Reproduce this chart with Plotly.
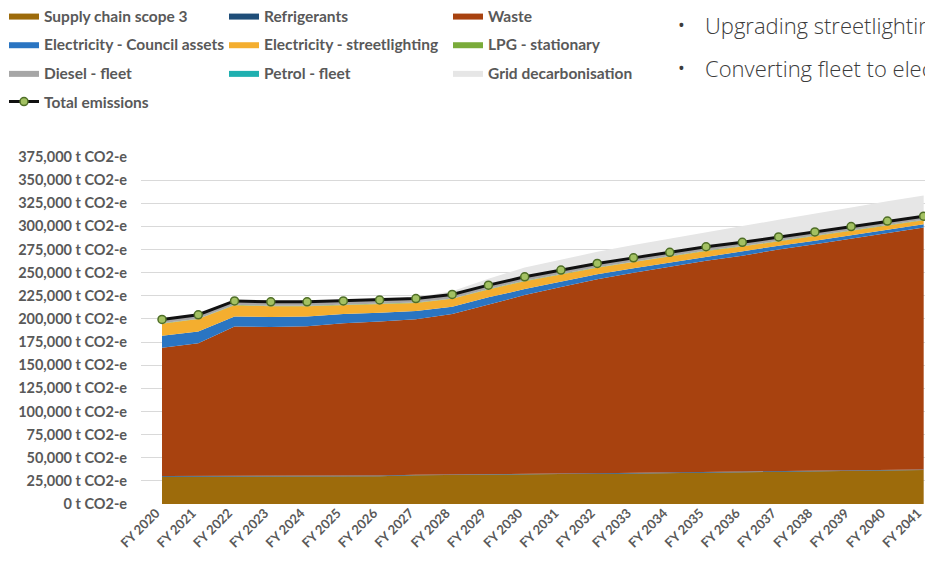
import plotly.graph_objects as go

# financial years on the x axis
years = ["FY 2020", "FY 2021", "FY 2022", "FY 2023", "FY 2024", "FY 2025", "FY 2026",
         "FY 2027", "FY 2028", "FY 2029", "FY 2030", "FY 2031", "FY 2032", "FY 2033",
         "FY 2034", "FY 2035", "FY 2036", "FY 2037", "FY 2038", "FY 2039", "FY 2040",
         "FY 2041"]

# emissions by source, t CO2-e
supply_chain = [29500, 29500, 30000, 29800, 30000, 30200, 30000, 31000, 31500, 31800, 32000,
                32300, 32500, 33000, 33300, 33800, 34300, 34700, 35200, 35700, 36200, 36700]
refrigerants = [700, 700, 700, 700, 700, 700, 700, 700, 700, 700, 700,
                700, 700, 700, 700, 700, 700, 700, 700, 700, 700, 700]
waste = [138600, 143400, 161000, 160900, 161500, 164300, 166500, 168000, 173000, 183300, 193100,
         201600, 209700, 216200, 222400, 228500, 233300, 239700, 244700, 250400, 256300, 261300]
elec_council = [13000, 12700, 11000, 10800, 10500, 10000, 9500, 9000, 8000, 7500, 6500,
                6000, 5500, 5000, 4500, 4500, 4500, 4000, 4000, 3800, 3600, 3500]
elec_street = [13000, 13500, 12000, 11500, 11000, 9500, 9000, 8500, 8500, 8500, 8500,
               7500, 7000, 6500, 6500, 6000, 5500, 5000, 5000, 4800, 4600, 4500]
lpg = [500, 500, 500, 500, 500, 500, 500, 500, 500, 500, 500,
       500, 500, 500, 500, 500, 500, 500, 500, 500, 500, 500]
diesel = [3400, 3400, 3500, 3500, 3500, 3500, 3500, 3500, 3500, 3400, 3400,
          3400, 3300, 3300, 3300, 3200, 3200, 3200, 3100, 3100, 3100, 3000]
petrol = [800, 800, 800, 800, 800, 800, 800, 800, 800, 800, 800,
          800, 800, 800, 800, 800, 800, 800, 800, 800, 800, 800]
grid_decarb = [0, 0, 0, 0, 0, 500, 1000, 1500, 3500, 7000, 10000,
               11500, 12500, 14000, 15000, 16000, 17500, 18500, 19500, 20500, 21500, 22500]

# total line sits on top of the emission layers (grid decarbonisation excluded)
total = [sum(v) for v in zip(supply_chain, refrigerants, waste, elec_council, elec_street,
                             lpg, diesel, petrol)]

FONT = "Lato"
GREY_TXT = "#595959"

# plot box in figure pixels (page body adds an 8px offset)
L, T, W, H = 133, 149, 800, 347


def px_x(x):
    return (x - L) / W


def px_y(y):
    return 1 + (T - y) / H


layers = [
    ("Supply chain scope 3", supply_chain, "#9d6b0b", "legend"),
    ("Refrigerants", refrigerants, "#1f4e79", "legend2"),
    ("Waste", waste, "#a8420f", "legend3"),
    ("Electricity - Council assets", elec_council, "#2a75c2", "legend"),
    ("Electricity - streetlighting", elec_street, "#f4ae2f", "legend2"),
    ("LPG - stationary", lpg, "#7aab3a", "legend3"),
    ("Diesel - fleet", diesel, "#a6a6a6", "legend"),
    ("Petrol - fleet", petrol, "#1fb0b0", "legend2"),
    ("Grid decarbonisation", grid_decarb, "#e6e6e6", "legend3"),
]

fig = go.Figure()
for name, vals, color, leg in layers:
    fig.add_trace(go.Scatter(
        x=years, y=vals, name=name, mode="lines",
        stackgroup="one", line=dict(width=0, color=color),
        fillcolor=color, legend=leg, legendgroup=name,
    ))

fig.add_trace(go.Scatter(
    x=years, y=total, name="Total emissions", mode="lines+markers",
    line=dict(color="#111111", width=3),
    marker=dict(size=8, color="#a3c162", line=dict(color="#4e6e26", width=1.5)),
    legend="legend", legendgroup="Total emissions",
))

leg_common = dict(
    orientation="v", xref="paper", yref="paper", xanchor="left",
    yanchor="top", y=px_y(-9), traceorder="grouped", tracegroupgap=5.5,
    font=dict(family=FONT, size=15.5, color=GREY_TXT, weight="bold"),
    bgcolor="rgba(0,0,0,0)", itemclick=False,
)

fig.update_layout(
    width=933, height=566,
    margin=dict(l=L, r=933 - L - W, t=T, b=566 - T - H, autoexpand=False),
    paper_bgcolor="white", plot_bgcolor="white",
    font=dict(family=FONT, color=GREY_TXT),
    showlegend=True,
    legend=dict(x=px_x(-4), **leg_common),
    legend2=dict(x=px_x(216), **leg_common),
    legend3=dict(x=px_x(440), **leg_common),
    xaxis=dict(
        type="category", range=[-0.579, -0.579 + W / 36.27], showgrid=False,
        showline=False, zeroline=False, tickangle=-45, automargin=False,
        tickfont=dict(family=FONT, size=13, color=GREY_TXT, weight="bold"),
        ticks="", ticklabelstandoff=-2, ticklabelshift=-6,
    ),
    yaxis=dict(
        range=[0, 375000], dtick=25000, tickformat=",", ticksuffix=" t CO2-e",
        showgrid=True, gridcolor="#d9d9d9", gridwidth=1, zeroline=False,
        showline=False, automargin=False,
        ticks="outside", ticklen=10, tickcolor="rgba(0,0,0,0)",
        tickfont=dict(family=FONT, size=14.5, color=GREY_TXT, weight="bold"),
    ),
)

# bullet text from the surrounding page, cut off at the right edge
bullets = ["Upgrading streetlighting to LED", "Converting fleet to electric vehicles"]
for i, txt in enumerate(bullets):
    yy = px_y(17 + i * 43)
    fig.add_annotation(xref="paper", yref="paper", x=px_x(673), y=yy,
                       text="•", showarrow=False, xanchor="center", yanchor="middle",
                       font=dict(family="Open Sans", size=18, color="#3c3c3c"))
    fig.add_annotation(xref="paper", yref="paper", x=px_x(695), y=yy,
                       text=txt, showarrow=False, xanchor="left", yanchor="middle",
                       font=dict(family="Open Sans", size=22, color="#3c3c3c", weight=300))

fig.write_html("out.html")
